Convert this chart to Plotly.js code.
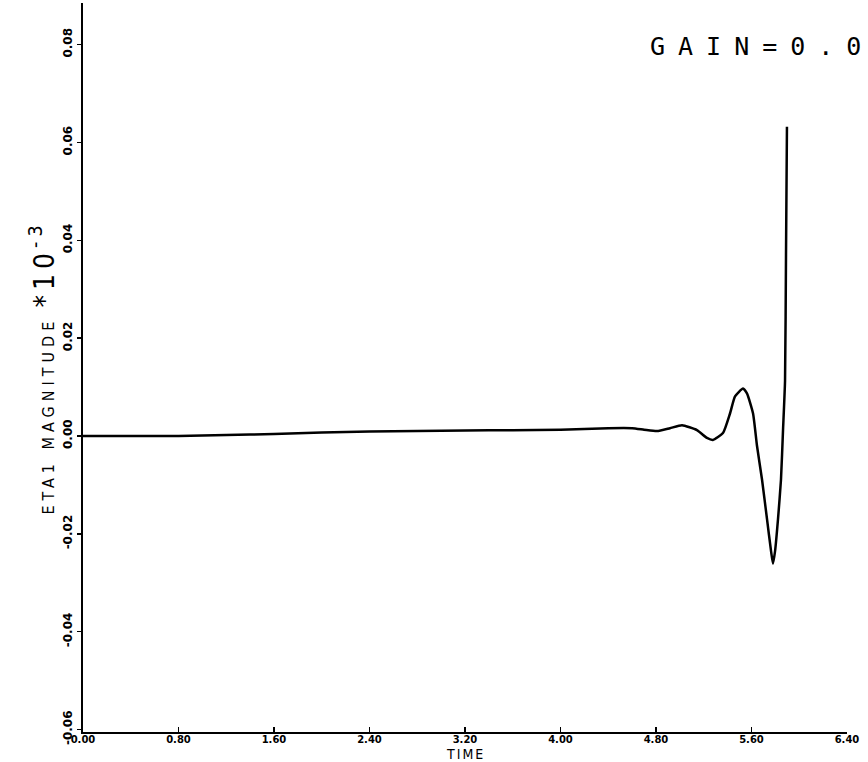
<!DOCTYPE html>
<html>
<head>
<meta charset="utf-8">
<script src="https://cdn.plot.ly/plotly-3.0.1.min.js"></script>
<style>html,body{margin:0;padding:0;background:#fff;}#chart{width:868px;height:762px;}</style>
</head>
<body>
<div id="chart"></div>
<script>
// Time values (x) and ETA1 magnitude (*10^-3)
const time = [0.00, 0.40, 0.80, 1.20, 1.60, 2.00, 2.40, 2.80, 3.20, 3.60, 4.00, 4.40, 4.60, 4.70,
  4.808, 4.917, 5.018, 5.143, 5.227, 5.277, 5.361, 5.420, 5.462, 5.529, 5.562, 5.613, 5.646,
  5.688, 5.730, 5.764, 5.780, 5.797, 5.822, 5.847, 5.864, 5.881, 5.889, 5.897];
const eta1 = [0.0000, 0.0000, 0.0000, 0.0002, 0.0004, 0.0007, 0.0009, 0.0010, 0.0011, 0.0012, 0.0013, 0.0016, 0.0016, 0.0013,
  0.0010, 0.0016, 0.0022, 0.0012, -0.0004, -0.0008, 0.0006, 0.0046, 0.0081, 0.0097, 0.0087, 0.0046, -0.0020,
  -0.0089, -0.0170, -0.0236, -0.0261, -0.0236, -0.0170, -0.0089, 0.0012, 0.0113, 0.0370, 0.0632];

const xTickVals = [0.00, 0.80, 1.60, 2.40, 3.20, 4.00, 4.80, 5.60, 6.40];
const xTickText = ["0.00", "0.80", "1.60", "2.40", "3.20", "4.00", "4.80", "5.60", "6.40"];
const yTickVals = [-0.06, -0.04, -0.02, 0.00, 0.02, 0.04, 0.06, 0.08];
const yTickText = ["-0.06", "-0.04", "-0.02", "0.00", "0.02", "0.04", "0.06", "0.08"];

const data = [{
  x: time, y: eta1, type: "scatter", mode: "lines",
  line: {color: "#000", width: 2.5, shape: "spline", smoothing: 0.5},
  hoverinfo: "skip"
}];

const layout = {
  width: 868, height: 762,
  paper_bgcolor: "#fff", plot_bgcolor: "#fff",
  margin: {l: 83, r: 21, t: 3, b: 30},
  showlegend: false,
  xaxis: {
    range: [0, 6.4], tickvals: xTickVals, ticktext: xTickText,
    showgrid: false, zeroline: false, showline: true, linecolor: "#000", linewidth: 2,
    ticks: "inside", ticklen: 5, tickwidth: 1.5, tickcolor: "#000",
    tickfont: {family: "DejaVu Sans", size: 10, color: "#000", weight: "bold"},
    automargin: false, ticklabelstandoff: -3
  },
  yaxis: {
    range: [-0.0605, 0.0885], tickvals: yTickVals, ticktext: yTickText,
    showgrid: false, zeroline: false, showline: true, linecolor: "#000", linewidth: 2,
    ticks: "outside", ticklen: 4, tickwidth: 1.5, tickcolor: "#000",
    tickangle: -90, tickfont: {family: "DejaVu Sans", size: 12, color: "#000", weight: "bold"}, automargin: false,
    title: {
      text: "<span style='letter-spacing:5px'>ETA1 MAGNITUDE</span>  <span style='font-size:28px;letter-spacing:5px'>*10<sup>-3</sup></span>",
      font: {family: "DejaVu Sans Condensed", size: 16, color: "#000"},
      standoff: 2
    }
  },
  annotations: [
    {text: "<span style='letter-spacing:2px'>TIME</span>", xref: "paper", yref: "paper", x: 0.5, y: 0,
     xanchor: "center", yanchor: "bottom", yshift: -31, borderpad: 0, showarrow: false,
     font: {family: "DejaVu Sans Condensed", size: 14, color: "#000"}},
    {text: "<span style='letter-spacing:13px'>GAIN=0.0</span>", xref: "paper", yref: "paper",
     x: 0.7395, y: 0.94, xanchor: "left", yanchor: "middle", showarrow: false,
     font: {family: "DejaVu Sans Mono", size: 25, color: "#000"}}
  ]
};

Plotly.newPlot("chart", data, layout, {displayModeBar: false, staticPlot: true});
</script>
</body>
</html>
